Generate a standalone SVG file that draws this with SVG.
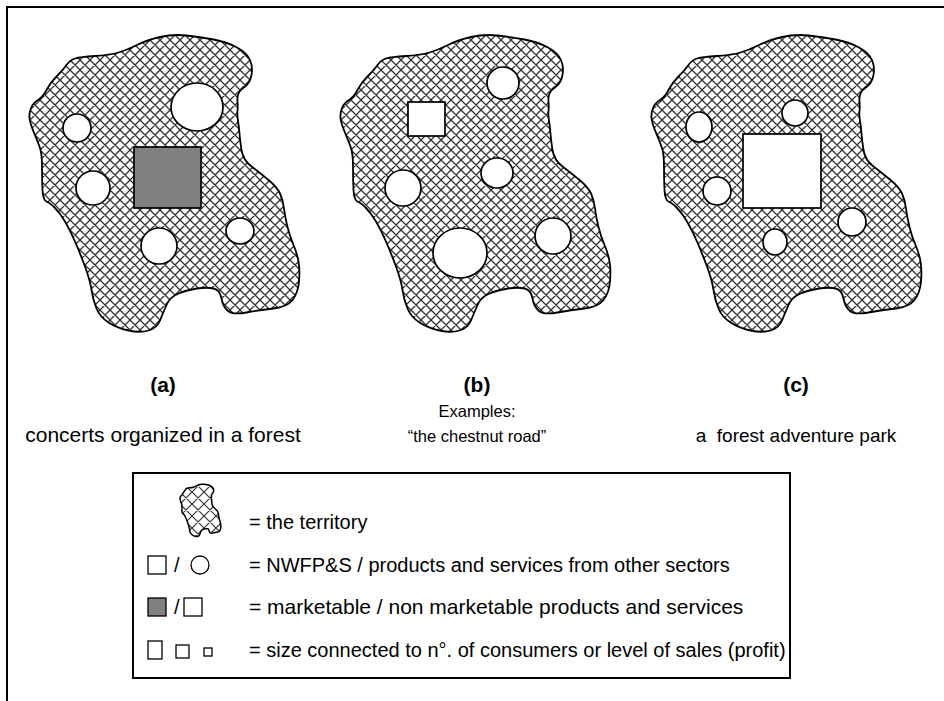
<svg xmlns="http://www.w3.org/2000/svg" xmlns:xlink="http://www.w3.org/1999/xlink" width="944" height="701" viewBox="0 0 944 701">
  <style>
    .frame { fill: none; stroke: #000; stroke-width: 2; }
    .land { fill: url(#hatch); stroke: #000; stroke-width: 1.8; }
    .hole { fill: #fff; stroke: #000; stroke-width: 1.7; }
    .sold { fill: #808080; stroke: #000; stroke-width: 1.7; }
    .tag { font-family: "Liberation Sans", Arial, sans-serif; font-size: 21px; font-weight: bold; text-anchor: middle; fill: #000; }
    .cap { font-family: "Liberation Sans", Arial, sans-serif; font-size: 19px; text-anchor: middle; fill: #000; white-space: pre; }
    .key { font-family: "Liberation Sans", Arial, sans-serif; font-size: 20px; fill: #000; }
    .sym { fill: #fff; stroke: #000; stroke-width: 1.3; }
  </style>
  <defs>
    <pattern id="hatch" patternUnits="userSpaceOnUse" width="10" height="10">
      <path d="M0,0 L10,10 M10,0 L0,10 M-1,9 L1,11 M9,-1 L11,1 M-1,1 L1,-1 M9,11 L11,9" stroke="#333" stroke-width="1.3" fill="none"/>
    </pattern>
    <pattern id="hatchMini" patternUnits="userSpaceOnUse" width="12" height="12">
      <path d="M0,0 L12,12 M12,0 L0,12 M-1,11 L1,13 M11,-1 L13,1 M-1,1 L1,-1 M11,13 L13,11" stroke="#333" stroke-width="1.2" fill="none"/>
    </pattern>
    <!-- outline of the territory, drawn once and reused -->
    <path id="blob" vector-effect="non-scaling-stroke" d="M66.5,65 Q70,60 75,58.5 Q80,57 95,56 Q110,55 118.5,52.5 Q127,50 137,45 Q147,40 160,37 Q173,34 186.5,35.5 Q200,37 213.5,39.5 Q227,42 237,47.5 Q247,53 250,60 Q253,67 251.5,75 Q250,83 245,86.5 Q240,90 238.5,93.5 Q237,97 237.5,102 Q238,107 237.5,111 Q237,115 238,121 Q239,127 239.5,133.5 Q240,140 241.5,150 Q243,160 251.5,166.5 Q260,173 268.5,180 Q277,187 280,193.5 Q283,200 284,208.5 Q285,217 287.5,227 Q290,237 293.5,245 Q297,253 298.5,261.5 Q300,270 299,281.5 Q298,293 292.5,300 Q287,307 273.5,308.5 Q260,310 246.5,312.5 Q233,315 228,311 Q223,307 221.5,298.5 Q220,290 213.5,288.5 Q207,287 197,288.5 Q187,290 178.5,293.5 Q170,297 166.5,305 Q163,313 160,320.5 Q157,328 148.5,330.5 Q140,333 128.5,330.5 Q117,328 108.5,322.5 Q100,317 96.5,308.5 Q93,300 91.5,290 Q90,280 85,266.5 Q80,253 75,241.5 Q70,230 65,221.5 Q60,213 55,208 Q50,203 46.5,201.5 Q43,200 42.5,190 Q42,180 42,166.5 Q42,153 39.5,146.5 Q37,140 33.5,131.5 Q30,123 29.5,118 Q29,113 31,108 Q33,103 38,100 Q43,97 46.5,90 Q50,83 56.5,76.5 Q63,70 66.5,65 Z"/>
    <clipPath id="miniClip">
      <use xlink:href="#blob" transform="translate(175.6,478) scale(0.151,0.176)"/>
    </clipPath>
  </defs>

  <!-- page frame: top and left edges only -->
  <path class="frame" d="M944,7 L7,7 L7,701"/>

  <!-- territory (a): concerts -->
  <g id="territory-a">
    <use xlink:href="#blob" class="land"/>
    <ellipse class="hole" cx="197" cy="107" rx="26" ry="24"/>
    <circle class="hole" cx="77" cy="128" r="14"/>
    <circle class="hole" cx="93" cy="188" r="17"/>
    <rect class="sold" x="134" y="147" width="67" height="61"/>
    <circle class="hole" cx="159" cy="246" r="18"/>
    <ellipse class="hole" cx="240" cy="231" rx="14" ry="13"/>
  </g>

  <!-- territory (b): chestnut road -->
  <g id="territory-b">
    <use xlink:href="#blob" class="land" transform="translate(311,0)"/>
    <circle class="hole" cx="503" cy="83" r="16"/>
    <rect class="hole" x="408" y="102" width="37" height="34"/>
    <circle class="hole" cx="403" cy="188" r="18"/>
    <ellipse class="hole" cx="497" cy="173" rx="16" ry="15"/>
    <ellipse class="hole" cx="460" cy="253" rx="27" ry="25"/>
    <circle class="hole" cx="553" cy="236" r="18"/>
  </g>

  <!-- territory (c): adventure park -->
  <g id="territory-c">
    <use xlink:href="#blob" class="land" transform="translate(622,0)"/>
    <ellipse class="hole" cx="699" cy="127" rx="13" ry="15"/>
    <circle class="hole" cx="795" cy="113" r="13"/>
    <rect class="hole" x="743" y="134" width="78" height="74"/>
    <circle class="hole" cx="717" cy="191" r="14"/>
    <ellipse class="hole" cx="775" cy="242" rx="12" ry="13"/>
    <circle class="hole" cx="852" cy="222" r="14"/>
  </g>

  <!-- captions -->
  <g id="captions">
    <text class="tag" x="163" y="392">(a)</text>
    <text class="tag" x="477" y="392">(b)</text>
    <text class="tag" x="796" y="392">(c)</text>
    <text class="cap" x="477" y="417" style="font-size:16.5px">Examples:</text>
    <text class="cap" x="163" y="442" style="font-size:21px">concerts organized in a forest</text>
    <text class="cap" x="477" y="442" style="font-size:16.5px">“the chestnut road”</text>
    <text class="cap" x="796" y="442">a  forest adventure park</text>
  </g>

  <!-- key -->
  <g id="legend">
    <rect x="133" y="473" width="657" height="205" fill="#fff" stroke="#000" stroke-width="2"/>
    <rect x="170" y="470" width="60" height="70" fill="url(#hatchMini)" clip-path="url(#miniClip)"/>
    <use xlink:href="#blob" transform="translate(175.6,478) scale(0.151,0.176)" fill="none" stroke="#000" stroke-width="1.5"/>
    <text class="key" x="249" y="529">= the territory</text>

    <rect class="sym" x="148" y="556" width="18" height="18"/>
    <text class="key" x="174" y="572">/</text>
    <circle class="sym" cx="200" cy="565" r="9"/>
    <text class="key" x="249" y="572">= NWFP&amp;S / products and services from other sectors</text>

    <rect class="sym" x="148" y="598" width="18" height="18" style="fill:#808080"/>
    <text class="key" x="174" y="614">/</text>
    <rect class="sym" x="184" y="598" width="18" height="18"/>
    <text class="key" x="249" y="614" style="font-size:21px">= marketable / non marketable products and services</text>

    <rect class="sym" x="148" y="641" width="14" height="18"/>
    <rect class="sym" x="176" y="645" width="13" height="13"/>
    <rect class="sym" x="204" y="648" width="8" height="8"/>
    <text class="key" x="249" y="657">= size connected to n°. of consumers or level of sales (profit)</text>
  </g>
</svg>
